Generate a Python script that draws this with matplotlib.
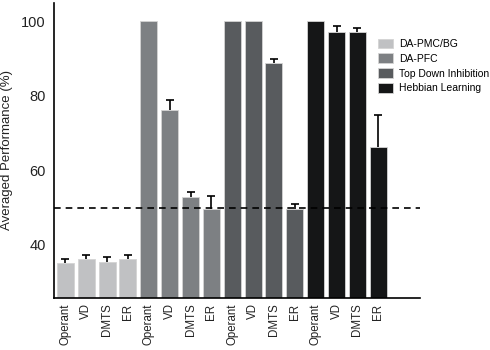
import matplotlib
matplotlib.use("Agg")
import matplotlib.pyplot as plt
import numpy as np

plt.rcParams['font.family'] = ['Liberation Sans', 'DejaVu Sans']

tasks = ["Operant", "VD", "DMTS", "ER"]
groups = ["DA-PMC/BG", "DA-PFC", "Top Down Inhibition", "Hebbian Learning"]
colors = ["#c0c1c3", "#7d8083", "#585b5e", "#151617"]
means = [
    [35.1, 36.2, 35.4, 36.2],
    [100.0, 76.1, 52.8, 49.7],
    [100.0, 100.0, 88.8, 49.6],
    [100.0, 97.1, 97.1, 66.3],
]
errs = [
    [1.2, 1.2, 1.3, 1.2],
    [0.0, 2.7, 1.5, 3.5],
    [0.0, 0.0, 0.9, 1.4],
    [0.0, 1.5, 1.1, 8.5],
]
chance = 50

fig = plt.figure(figsize=(4.9, 3.5), dpi=100)
ax = fig.add_axes([0.110, 0.149, 0.747, 0.842])

labels = []
for g, (name, col) in enumerate(zip(groups, colors)):
    x = np.arange(len(tasks)) + g * len(tasks)
    ax.bar(x, means[g], width=0.82, color=col, edgecolor="#d4d4d4", linewidth=0.6,
           label=name, zorder=2)
    e = np.array(errs[g])
    mask = e > 0
    _, caps, _ = ax.errorbar(x[mask], np.array(means[g])[mask],
                             yerr=[np.zeros(mask.sum()), e[mask]],
                             fmt="none", ecolor="black", elinewidth=1.2, capsize=3,
                             capthick=1.2, zorder=3)
    if len(caps) == 2:
        caps[0].set_visible(False)
    labels += tasks

ax.axhline(chance, color="black", linestyle=(0, (4, 3)), linewidth=1.2, zorder=4)

ax.set_xlim(-0.55, 17.0)
ax.set_ylim(25.8, 104.8)
ax.set_xticks(np.arange(16))
ax.set_xticklabels(labels, rotation=90, fontsize=8.3, color="#222222")
ax.set_yticks([40, 60, 80, 100])
ax.tick_params(axis="y", labelsize=10.5, length=0, pad=6, labelcolor="#222222")
ax.tick_params(axis="x", length=0, pad=4)
ax.set_ylabel("Averaged Performance (%)", fontsize=9.5, color="#222222", labelpad=6)
for s in ["top", "right"]:
    ax.spines[s].set_visible(False)
for s in ["left", "bottom"]:
    ax.spines[s].set_linewidth(1.2)

ax.legend(loc="upper left", bbox_to_anchor=(0.772, 0.89), bbox_transform=fig.transFigure,
          frameon=False, fontsize=7.5, handlelength=1.4, handleheight=1.0,
          labelspacing=0.45, handletextpad=0.6, borderaxespad=0, borderpad=0)

fig.savefig("out.png", dpi=100)
